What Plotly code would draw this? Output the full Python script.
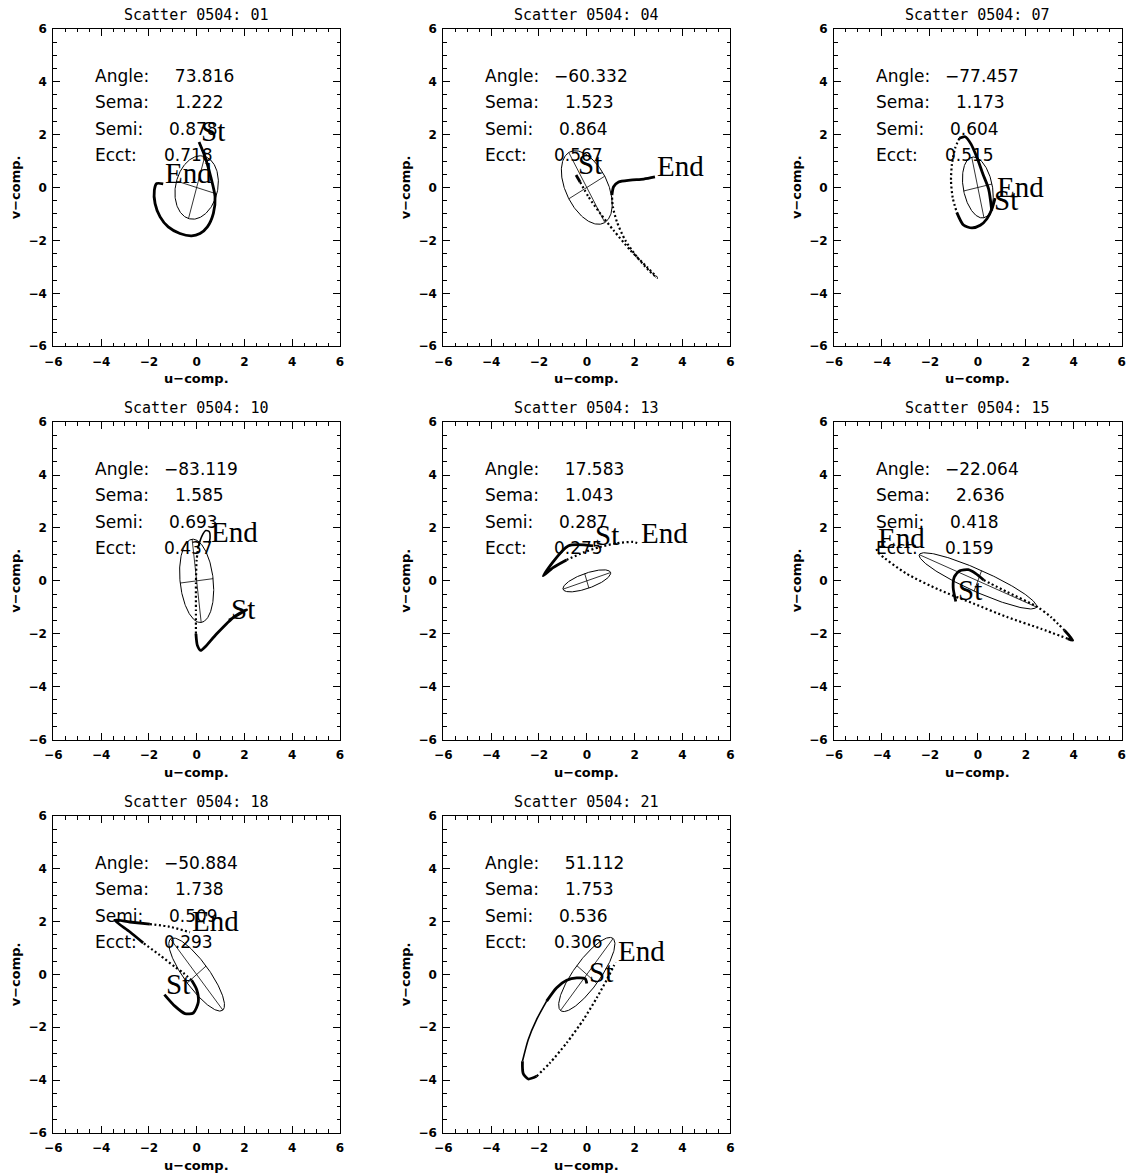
import numpy as np
import plotly.graph_objects as go

# ---------------- data ----------------
panel_ids = ["01", "04", "07", "10", "13", "15", "18", "21"]
angle = [73.816, -60.332, -77.457, -83.119, 17.583, -22.064, -50.884, 51.112]
sema = [1.222, 1.523, 1.173, 1.585, 1.043, 2.636, 1.738, 1.753]
semi = [0.878, 0.864, 0.604, 0.693, 0.287, 0.418, 0.509, 0.536]
ecct = [0.718, 0.567, 0.515, 0.437, 0.275, 0.159, 0.293, 0.306]

u_01 = [0.10, 0.35, 0.59, 0.77, 0.70, 0.45, 0.14, -0.21, -0.70, -1.19, -1.53, -1.74, -1.77, -1.67, -1.40]
v_01 = [1.72, 1.16, 0.40, -0.35, -0.98, -1.49, -1.74, -1.83, -1.74, -1.49, -1.11, -0.61, -0.10, 0.15, 0.14]
u_04 = [-0.45, -0.28, 0.07, 0.56, 1.12, 1.82, 2.52, 2.94, 2.59, 2.10, 1.61, 1.26, 1.09, 1.05, 1.12, 1.33, 1.82, 2.38, 2.85]
v_04 = [0.47, 0.21, -0.35, -0.98, -1.62, -2.37, -3.01, -3.41, -3.13, -2.63, -2.00, -1.30, -0.73, -0.29, 0.03, 0.21, 0.28, 0.32, 0.40]
u_07 = [0.58, 0.45, 0.21, -0.04, -0.29, -0.53, -0.77, -0.95, -1.08, -1.12, -1.05, -0.88, -0.60, -0.25, 0.10, 0.38, 0.59, 0.72]
v_07 = [-0.88, -0.06, 0.51, 1.14, 1.65, 1.92, 1.86, 1.48, 0.89, 0.25, -0.38, -0.94, -1.42, -1.53, -1.43, -1.18, -0.80, -0.40]
u_10 = [1.35, 2.09, 1.59, 0.84, 0.35, 0.17, 0.03, -0.03, -0.03, -0.03, 0.00, 0.07, 0.21, 0.38, 0.53, 0.56, 0.52]
v_10 = [-1.49, -1.09, -1.34, -2.00, -2.50, -2.63, -2.44, -2.00, -1.11, -0.10, 0.79, 1.29, 1.67, 1.90, 1.86, 1.61, 1.42]
u_13 = [0.26, -0.78, -1.82, -1.41, -0.85, -0.15, 0.54, 1.24, 1.94, 2.20]
v_13 = [1.32, 1.32, 0.19, 0.50, 0.79, 1.07, 1.28, 1.42, 1.47, 1.40]
u_15 = [-0.92, -1.03, -0.98, -0.75, -0.40, -0.10, 0.24, 1.22, 2.49, 3.05, 3.61, 3.96, 3.75, 2.63, 1.22, -0.18, -1.59, -2.99, -4.12, -4.24]
v_15 = [-0.78, -0.25, 0.15, 0.38, 0.42, 0.28, 0.03, -0.42, -0.99, -1.37, -1.87, -2.25, -2.19, -1.81, -1.37, -0.86, -0.35, 0.28, 1.04, 1.22]
u_18 = [-1.35, -0.91, -0.49, -0.14, 0.07, 0.00, -0.21, -0.56, -0.91, -1.54, -2.24, -2.80, -3.43, -2.80, -1.96, -1.12, -0.28]
v_18 = [-0.76, -1.20, -1.48, -1.46, -1.04, -0.57, -0.22, 0.06, 0.29, 0.73, 1.20, 1.62, 2.06, 1.99, 1.91, 1.81, 1.60]
u_21 = [0.00, -0.07, -0.42, -0.84, -1.26, -1.68, -2.10, -2.45, -2.69, -2.66, -2.45, -2.10, -1.54, -0.84, -0.14, 0.42, 0.84, 1.12, 1.20]
v_21 = [-0.34, -0.16, -0.13, -0.22, -0.50, -1.01, -1.71, -2.47, -3.29, -3.75, -3.96, -3.86, -3.35, -2.59, -1.71, -0.88, -0.19, 0.31, 0.47]

traj_u = [u_01, u_04, u_07, u_10, u_13, u_15, u_18, u_21]
traj_v = [v_01, v_04, v_07, v_10, v_13, v_15, v_18, v_21]

tick_vals = [-6, -4, -2, 0, 2, 4, 6]
axis_range = [-6, 6]
stat_labels = ["Angle:", "Sema:", "Semi:", "Ecct:"]

# ---------------- styles ----------------
SEGMENTS = [
    [(0, 14, "thick")],
    [(0, 1, "thick"), (1, 13, "dot"), (13, 18, "thick")],
    [(0, 6, "thick"), (6, 11, "dot"), (11, 17, "thick")],
    [(0, 7, "thick"), (7, 11, "dot"), (11, 16, "thin")],
    [(0, 4, "thick"), (4, 9, "dot")],
    [(0, 6, "thick"), (6, 10, "dot"), (10, 12, "thick"), (12, 19, "dot")],
    [(0, 6, "thick"), (6, 10, "dot"), (10, 14, "thick"), (14, 16, "dot")],
    [(0, 5, "thick"), (5, 8, "thin"), (8, 11, "thick"), (11, 18, "dot")],
]
LINE_STYLES = {
    "thick": dict(color="black", width=2.8),
    "thin": dict(color="black", width=1.6),
    "dot": dict(color="black", width=2.2, dash="2px,2.5px"),
}

W, H = 1129, 1174
COLS = [(53.3, 340.0), (443.3, 730.3), (834.0, 1121.7)]
ROWS = [(28.8, 346.2), (422.2, 739.5), (816.2, 1132.8)]

TICK_FONT = dict(family="DejaVu Sans", size=12, color="black", weight="bold")
TITLE_FONT = dict(family="DejaVu Sans Mono", size=15, color="black")
AXTITLE_FONT = dict(family="DejaVu Sans", size=13, color="black", weight="bold")
STAT_FONT = dict(family="DejaVu Sans", size=17, color="black")
MARK_FONT = dict(family="Liberation Serif", size=29, color="black")

LABEL_X = -4.33
VALUE_X = [-1.47, -0.98, -1.26, -1.47]
ROW_Y = [4.23, 3.23, 2.23, 1.23]

fig = go.Figure()
layout = dict(
    width=W, height=H,
    margin=dict(l=0, r=0, t=0, b=0, pad=0, autoexpand=False),
    paper_bgcolor="white", plot_bgcolor="white",
    showlegend=False,
)
annotations = []

for i, pid in enumerate(panel_ids):
    r, c = divmod(i, 3)
    n = "" if i == 0 else str(i + 1)
    xa, ya = "x" + n, "y" + n
    x0, x1 = COLS[c]
    y0, y1 = ROWS[r]
    common = dict(
        range=axis_range, tickvals=tick_vals, ticks="inside", ticklen=7,
        tickwidth=1, tickcolor="black", showline=True, linecolor="black",
        linewidth=1, mirror="ticks", showgrid=False, zeroline=False,
        tickfont=TICK_FONT, automargin=False,
        minor=dict(ticks="inside", ticklen=3.5, dtick=0.5, tick0=0,
                   tickcolor="black", tickwidth=1, showgrid=False),
    )
    layout["xaxis" + n] = dict(common, domain=[x0 / W, x1 / W], anchor=ya,
                               ticklabelstandoff=4)
    layout["yaxis" + n] = dict(common, domain=[1 - y1 / H, 1 - y0 / H], anchor=xa,
                               ticklabelstandoff=3)

    # ellipse drawn from its parameters (centred at origin)
    th = np.deg2rad(angle[i])
    t = np.linspace(0, 2 * np.pi, 241)
    ex = sema[i] * np.cos(t) * np.cos(th) - semi[i] * np.sin(t) * np.sin(th)
    ey = sema[i] * np.cos(t) * np.sin(th) + semi[i] * np.sin(t) * np.cos(th)
    fig.add_trace(go.Scatter(x=ex, y=ey, mode="lines", xaxis=xa, yaxis=ya,
                             line=dict(color="black", width=1), hoverinfo="skip"))
    ax_x = [sema[i] * np.cos(th), -sema[i] * np.cos(th), None,
            -semi[i] * np.sin(th), semi[i] * np.sin(th)]
    ax_y = [sema[i] * np.sin(th), -sema[i] * np.sin(th), None,
            semi[i] * np.cos(th), -semi[i] * np.cos(th)]
    fig.add_trace(go.Scatter(x=ax_x, y=ax_y, mode="lines", xaxis=xa, yaxis=ya,
                             line=dict(color="black", width=0.8), hoverinfo="skip"))

    # trajectory
    uu, vv = traj_u[i], traj_v[i]
    for a, b, sty in SEGMENTS[i]:
        fig.add_trace(go.Scatter(x=uu[a:b + 1], y=vv[a:b + 1], mode="lines",
                                 xaxis=xa, yaxis=ya,
                                 line=dict(LINE_STYLES[sty], shape="spline", smoothing=0.7),
                                 hoverinfo="skip"))

    # St / End marks at first / last sample
    for txt, k in (("St", 0), ("End", -1)):
        annotations.append(dict(x=uu[k], y=vv[k], xref=xa, yref=ya, text=txt,
                                showarrow=False, xanchor="left", yanchor="bottom",
                                yshift=-7, font=MARK_FONT))

    # statistics text
    vals = [angle[i], sema[i], semi[i], ecct[i]]
    for j, (lab, v) in enumerate(zip(stat_labels, vals)):
        annotations.append(dict(x=LABEL_X, y=ROW_Y[j], xref=xa, yref=ya, text=lab,
                                showarrow=False, xanchor="left", yanchor="middle",
                                font=STAT_FONT))
        if j == 0:
            vtxt = ("\u2212" if v < 0 else "\u2007") + f"{abs(v):.3f}"
        else:
            vtxt = f"{v:.3f}"
        annotations.append(dict(x=VALUE_X[j], y=ROW_Y[j], xref=xa, yref=ya, text=vtxt,
                                showarrow=False, xanchor="left", yanchor="middle",
                                font=STAT_FONT))

    # titles
    annotations.append(dict(x=0.5, y=1, xref=xa + " domain", yref=ya + " domain",
                            text=f"Scatter 0504: {pid}", showarrow=False,
                            xanchor="center", yanchor="middle", yshift=14,
                            font=TITLE_FONT))
    annotations.append(dict(x=0.5, y=0, xref=xa + " domain", yref=ya + " domain",
                            text="u\u2212comp.", showarrow=False,
                            xanchor="center", yanchor="middle", yshift=-32.5,
                            font=AXTITLE_FONT))
    annotations.append(dict(x=0, y=0.5, xref=xa + " domain", yref=ya + " domain",
                            text="v\u2212comp.", showarrow=False, textangle=-90,
                            xanchor="center", yanchor="middle", xshift=-37.5,
                            font=AXTITLE_FONT))

layout["annotations"] = annotations
fig.update_layout(**layout)
fig.write_html("out.html")
